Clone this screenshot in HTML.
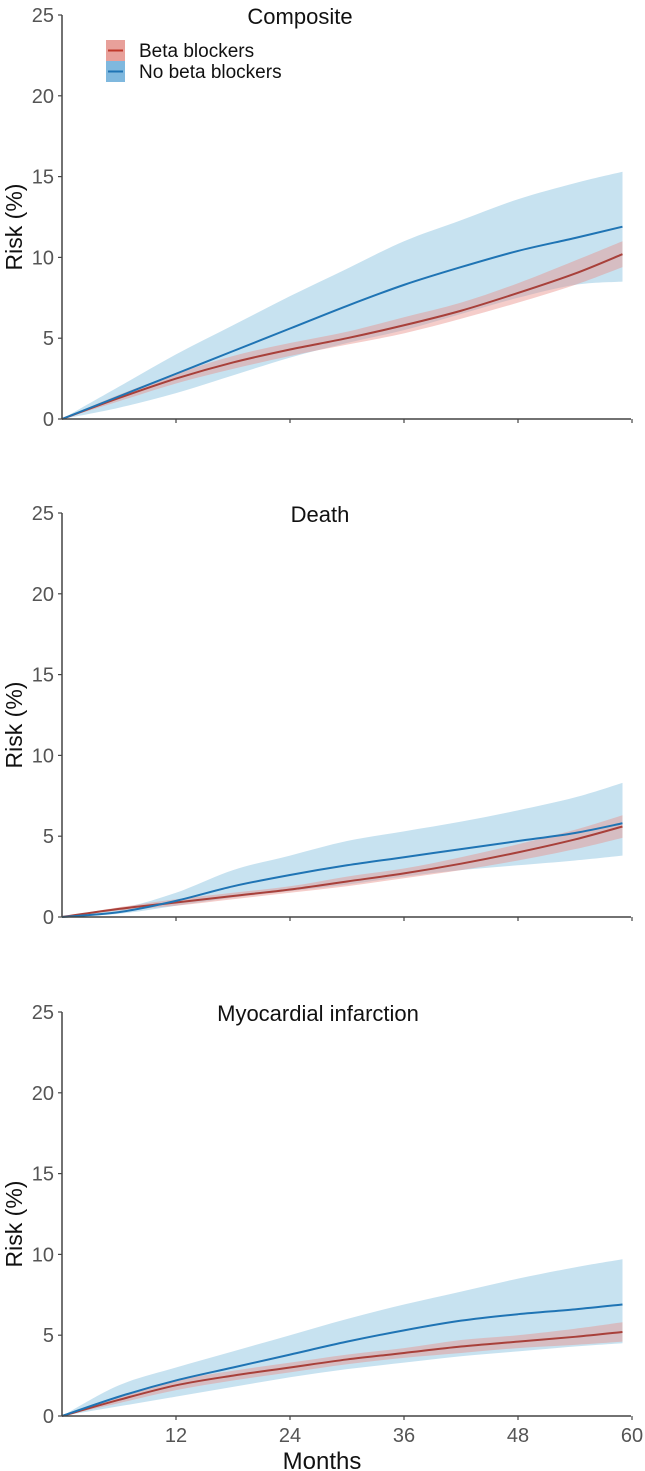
<!DOCTYPE html>
<html><head><meta charset="utf-8"><style>
html,body{margin:0;padding:0;background:#fff;}
svg{display:block;font-family:"Liberation Sans",Arial,sans-serif;}
</style></head><body>
<svg id="chart" width="645" height="1471" viewBox="0 0 645 1471"></svg>
<script>
const months = [0,6,12,18,24,30,36,42,48,54,59];
const titles = ["Composite","Death","Myocardial infarction"];
const yTicks = [0,5,10,15,20,25];
const xTicks = [12,24,36,48,60];
// Composite
const c_blue = [0,1.4,2.8,4.2,5.6,7.0,8.3,9.4,10.4,11.2,11.9];
const c_blueLo = [0,0.7,1.6,2.7,3.8,4.7,5.5,6.5,7.5,8.3,8.5];
const c_blueHi = [0,2.0,4.0,5.8,7.6,9.3,11.0,12.3,13.6,14.6,15.3];
const c_red = [0,1.3,2.5,3.5,4.3,5.0,5.8,6.7,7.8,9.0,10.2];
const c_redLo = [0,1.1,2.2,3.1,3.9,4.6,5.3,6.2,7.2,8.3,9.4];
const c_redHi = [0,1.5,2.8,3.9,4.7,5.4,6.3,7.2,8.4,9.8,11.0];
// Death
const d_blue = [0,0.3,1.0,1.9,2.6,3.2,3.7,4.2,4.7,5.2,5.8];
const d_blueLo = [0,0.2,0.7,1.2,1.6,2.0,2.5,2.9,3.2,3.5,3.8];
const d_blueHi = [0,0.5,1.5,2.9,3.8,4.7,5.3,5.9,6.6,7.4,8.3];
const d_red = [0,0.5,0.9,1.3,1.7,2.2,2.7,3.3,4.0,4.8,5.6];
const d_redLo = [0,0.4,0.7,1.1,1.5,1.9,2.4,2.9,3.5,4.2,4.9];
const d_redHi = [0,0.6,1.1,1.5,1.9,2.5,3.0,3.7,4.5,5.4,6.3];
// Myocardial infarction
const m_blue = [0,1.2,2.2,3.0,3.8,4.6,5.3,5.9,6.3,6.6,6.9];
const m_blueLo = [0,0.6,1.2,1.8,2.4,2.9,3.3,3.7,4.0,4.3,4.5];
const m_blueHi = [0,1.9,3.0,4.0,5.0,6.0,6.9,7.7,8.5,9.2,9.7];
const m_red = [0,1.0,1.9,2.5,3.0,3.5,3.9,4.3,4.6,4.9,5.2];
const m_redLo = [0,0.8,1.6,2.2,2.7,3.2,3.6,3.9,4.2,4.4,4.6];
const m_redHi = [0,1.2,2.2,2.8,3.3,3.8,4.2,4.7,5.0,5.4,5.8];

const panels = [
 {top:15,base:419,blue:c_blue,blo:c_blueLo,bhi:c_blueHi,red:c_red,rlo:c_redLo,rhi:c_redHi,tx:300},
 {top:513,base:917,blue:d_blue,blo:d_blueLo,bhi:d_blueHi,red:d_red,rlo:d_redLo,rhi:d_redHi,tx:320},
 {top:1012,base:1416,blue:m_blue,blo:m_blueLo,bhi:m_blueHi,red:m_red,rlo:m_redLo,rhi:m_redHi,tx:318}
];
const svg = document.getElementById('chart');
const NS = "http://www.w3.org/2000/svg";
function mk(tag, attrs, parent){const e=document.createElementNS(NS,tag);for(const k in attrs)e.setAttribute(k,attrs[k]);(parent||svg).appendChild(e);return e;}
const xS = m => 62 + m*9.5;
function smooth(pts){
  let d = "M"+pts[0][0]+","+pts[0][1];
  for(let i=0;i<pts.length-1;i++){
    const p0=pts[Math.max(0,i-1)],p1=pts[i],p2=pts[i+1],p3=pts[Math.min(pts.length-1,i+2)];
    const c1=[p1[0]+(p2[0]-p0[0])/6,p1[1]+(p2[1]-p0[1])/6];
    const c2=[p2[0]-(p3[0]-p1[0])/6,p2[1]-(p3[1]-p1[1])/6];
    d+=" C"+c1[0]+","+c1[1]+" "+c2[0]+","+c2[1]+" "+p2[0]+","+p2[1];
  }
  return d;
}
function band(lo,hi,yS){
  const up = months.map((m,i)=>[xS(m),yS(hi[i])]);
  const dn = months.map((m,i)=>[xS(m),yS(lo[i])]).reverse();
  return smooth(up)+" L"+dn[0][0]+","+dn[0][1]+smooth(dn).replace(/^M[^ ]+/,"")+" Z";
}
panels.forEach((p,pi)=>{
  const g = mk('g',{});
  
  
  const yS = v => p.base - v*(p.base-p.top)/25;
  const b1 = mk('path',{d:band(p.blo,p.bhi,yS),fill:'#a9d2e8',opacity:'0.65'},g);
  
  
  const b2 = mk('path',{d:band(p.rlo,p.rhi,yS),fill:'#e8918a',opacity:'0.45'},g);
  
  
  const l1 = mk('path',{d:smooth(months.map((m,i)=>[xS(m),yS(p.red[i])])),fill:'none',stroke:'#a8403a','stroke-width':2},g);
  
  
  const l2 = mk('path',{d:smooth(months.map((m,i)=>[xS(m),yS(p.blue[i])])),fill:'none',stroke:'#1f74b4','stroke-width':2},g);
  
  
  const ya = mk('line',{x1:62,y1:p.top,x2:62,y2:p.base,stroke:'#444','stroke-width':1.5},g);
  
  
  const xa = mk('line',{x1:62,y1:p.base,x2:631,y2:p.base,stroke:'#444','stroke-width':1.5},g);
  
  
  yTicks.forEach(t=>{
    mk('line',{x1:58,x2:62,y1:yS(t),y2:yS(t),stroke:'#444','stroke-width':1.2},g);
    const tl = mk('text',{x:54,y:yS(t)+7,'text-anchor':'end','font-size':20,fill:'#555'},g);
    tl.textContent=t;
    
    
  });
  xTicks.forEach(t=>{
    mk('line',{x1:xS(t),x2:xS(t),y1:p.base,y2:p.base+4,stroke:'#444','stroke-width':1.2},g);
    if(pi===2){
      const tl = mk('text',{x:xS(t),y:p.base+26,'text-anchor':'middle','font-size':20,fill:'#555'},g);
      tl.textContent=t;
      
      
    }
  });
  const tt = mk('text',{x:p.tx,y:p.top+9,'text-anchor':'middle','font-size':22,fill:'#111'},g);
  tt.textContent = titles[pi];
  
  
  const yt = mk('text',{x:0,y:0,'text-anchor':'middle','font-size':23,fill:'#111',transform:`translate(22,${(p.top+p.base)/2+10}) rotate(-90)`},g);
  yt.textContent = "Risk (%)";
  
  
});
const xt = mk('text',{x:322,y:1469,'text-anchor':'middle','font-size':24,fill:'#111'});
xt.textContent="Months";


// legend
const lg = mk('g',{});


const entries=[["Beta blockers","#e8a09a","#c0392b",40],["No beta blockers","#7fb8de","#1f74b4",61]];
entries.forEach(e=>{
  const eg = mk('g',{},lg);
  
  
  mk('rect',{x:106,y:e[3],width:19,height:21,fill:e[1]},eg);
  mk('line',{x1:108,x2:123,y1:e[3]+10.5,y2:e[3]+10.5,stroke:e[2],'stroke-width':2},eg);
  const t = mk('text',{x:139,y:e[3]+17,'font-size':19,fill:'#111'},eg);
  t.textContent=e[0];
});
</script>
</body></html>
